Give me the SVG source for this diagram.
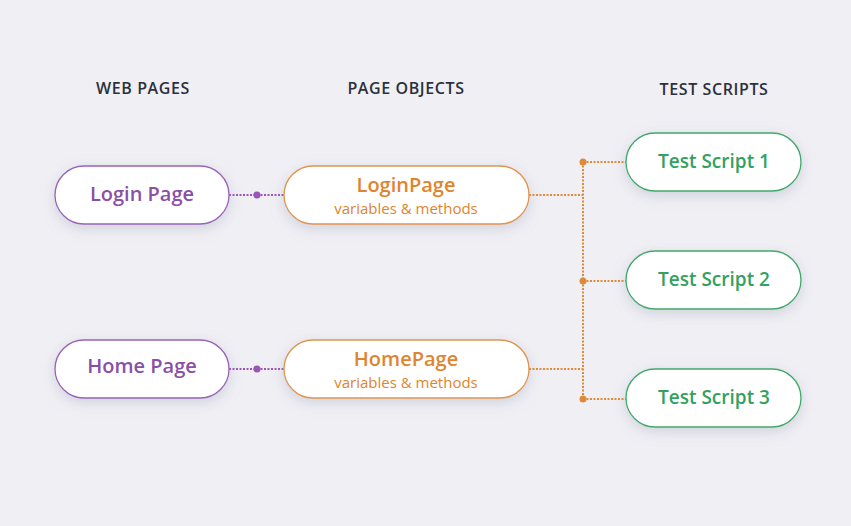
<svg xmlns="http://www.w3.org/2000/svg" width="851" height="526" viewBox="0 0 851 526">
<defs>
<filter id="sh" x="-30%" y="-50%" width="160%" height="200%">
<feDropShadow dx="0" dy="4" stdDeviation="7" flood-color="#9a9ab0" flood-opacity="0.35"/>
</filter>
</defs>
<style>
.hdr{font-family:"Open Sans",sans-serif;font-size:16px;font-weight:600;fill:#2a303c;text-anchor:middle;letter-spacing:0.6px}
.pill{fill:#ffffff;stroke-width:1.3;filter:url(#sh)}
.pur{stroke:#9a62b8}
.org{stroke:#e0954f}
.grn{stroke:#3fa96a}
.t{font-family:"Open Sans",sans-serif;font-weight:600;text-anchor:middle}
.tp{fill:#8a4fa8;font-size:20px}
.to{fill:#e0842e;font-size:20px}
.ts{fill:#e0842e;font-size:15px;font-weight:500}
.tg{fill:#33a160;font-size:19px}
.cp{stroke:#9a55b5;stroke-width:2;stroke-dasharray:2 1.5;fill:none}
.co{stroke:#e08a38;stroke-width:2;stroke-dasharray:2 1.5;fill:none}
</style>
<rect width="851" height="526" fill="#efeff4"/>
<text class="hdr" x="143" y="94">WEB PAGES</text>
<text class="hdr" x="406" y="94">PAGE OBJECTS</text>
<text class="hdr" x="714" y="95">TEST SCRIPTS</text>
<g id="connectors">
<path class="cp" d="M229 195H284"/>
<circle cx="257" cy="195" r="3.5" fill="#9a55b5"/>
<path class="cp" d="M229 369H284"/>
<circle cx="257" cy="369" r="3.5" fill="#9a55b5"/>
<path class="co" d="M529 195H583M529 369H583M583 162V399M583 162H626M583 281H626M583 399H626"/>
<circle cx="583" cy="162" r="3.5" fill="#e08a38"/>
<circle cx="583" cy="281" r="3.5" fill="#e08a38"/>
<circle cx="583" cy="399" r="3.5" fill="#e08a38"/>
</g>
<g id="login-page"><rect class="pill pur" x="55" y="166" width="174" height="58" rx="29"/><text class="t tp" x="142" y="201">Login Page</text></g>
<g id="home-page"><rect class="pill pur" x="55" y="340" width="174" height="58" rx="29"/><text class="t tp" x="142" y="373">Home Page</text></g>
<g id="loginpage-obj"><rect class="pill org" x="284" y="166" width="245" height="58" rx="29"/><text class="t to" x="406" y="192">LoginPage</text><text class="t ts" x="406" y="214">variables &amp; methods</text></g>
<g id="homepage-obj"><rect class="pill org" x="284" y="340" width="245" height="58" rx="29"/><text class="t to" x="406" y="366">HomePage</text><text class="t ts" x="406" y="388">variables &amp; methods</text></g>
<g id="test-script-1"><rect class="pill grn" x="626" y="133" width="175" height="58" rx="29"/><text class="t tg" x="714" y="168">Test Script 1</text></g>
<g id="test-script-2"><rect class="pill grn" x="626" y="251" width="175" height="58" rx="29"/><text class="t tg" x="714" y="286">Test Script 2</text></g>
<g id="test-script-3"><rect class="pill grn" x="626" y="369" width="175" height="58" rx="29"/><text class="t tg" x="714" y="404">Test Script 3</text></g>
</svg>
